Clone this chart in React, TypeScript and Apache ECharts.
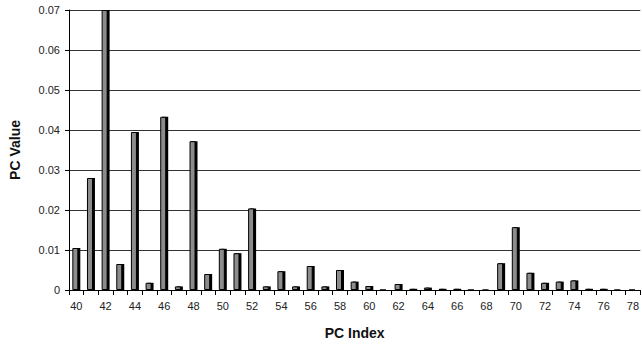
import React, { useEffect, useRef } from "react";
import * as echarts from "echarts";

const categories = [
  "40","41","42","43","44","45","46","47","48","49",
  "50","51","52","53","54","55","56","57","58","59",
  "60","61","62","63","64","65","66","67","68","69",
  "70","71","72","73","74","75","76","77","78",
];
const pcValues = [
  0.0105, 0.028, 0.07, 0.0065, 0.0395, 0.0018, 0.0433, 0.0009, 0.0372, 0.004,
  0.0103, 0.0092, 0.0204, 0.0009, 0.0047, 0.0009, 0.006, 0.0009, 0.005, 0.0021,
  0.001, 0, 0.0015, 0.0003, 0.0006, 0.0003, 0.0003, 0, 0, 0.0067,
  0.0157, 0.0043, 0.0018, 0.0021, 0.0024, 0.0003, 0.0003, 0, 0,
];
const yTicks = [0, 0.01, 0.02, 0.03, 0.04, 0.05, 0.06, 0.07];

export default function App() {
  const ref = useRef<HTMLDivElement>(null);
  useEffect(() => {
    if (!ref.current) return;
    const chart = echarts.init(ref.current, undefined, { renderer: "svg" });
    const font = "'Liberation Sans', Arial, sans-serif";
    chart.setOption({
      animation: false,
      grid: { left: 63, top: 10, right: 0, bottom: 59, containLabel: false },
      xAxis: {
        type: "category",
        data: categories,
        name: "PC Index",
        nameLocation: "middle",
        nameGap: 36,
        nameTextStyle: { fontFamily: font, fontSize: 14, fontWeight: "bold", color: "#111" },
        axisLine: { lineStyle: { color: "#000", width: 1 } },
        axisTick: { show: true, interval: 0, length: 5, lineStyle: { color: "#000" } },
        axisLabel: {
          interval: 1,
          margin: 10,
          fontFamily: font,
          fontSize: 11,
          color: "#222",
        },
        splitLine: { show: false },
      },
      yAxis: {
        type: "value",
        min: 0,
        max: yTicks[yTicks.length - 1],
        interval: 0.01,
        name: "PC Value",
        nameLocation: "middle",
        nameGap: 47,
        nameRotate: 90,
        nameTextStyle: { fontFamily: font, fontSize: 14, fontWeight: "bold", color: "#111" },
        axisLine: { show: true, lineStyle: { color: "#000", width: 1 } },
        axisTick: { show: true, length: 4, lineStyle: { color: "#000" } },
        axisLabel: {
          margin: 9,
          fontFamily: font,
          fontSize: 11,
          color: "#222",
          formatter: (v: number) => (v === 0 ? "0" : v.toFixed(2)),
        },
        splitLine: { show: true, lineStyle: { color: "#333", width: 1.2 } },
      },
      series: [
        {
          type: "bar",
          data: pcValues,
          barWidth: 6,
          barGap: "-67%",
          z: 3,
          itemStyle: { color: "#8c8c8c", borderColor: "#000", borderWidth: 1 },
        },
        {
          type: "bar",
          data: pcValues,
          barWidth: 6,
          z: 2,
          itemStyle: { color: "#000" },
        },
      ],
    });
    return () => chart.dispose();
  }, []);
  return <div ref={ref} style={{ width: 642, height: 349, position: "absolute", left: 0, top: 0 }} />;
}
